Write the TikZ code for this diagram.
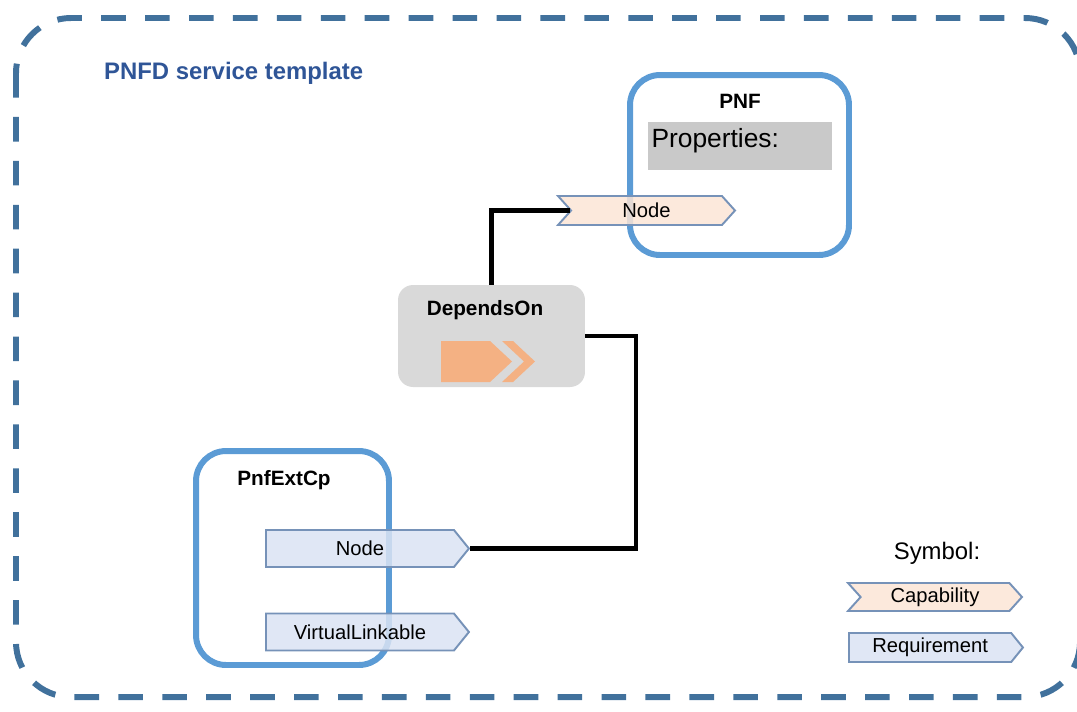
\documentclass[tikz,border=0pt]{standalone}
\usepackage{fontspec}
\setmainfont{Liberation Sans}
\usetikzlibrary{positioning}
\usetikzlibrary{shapes.symbols}
\usetikzlibrary{calc}
\definecolor{tmplblue}{HTML}{41719C}
\definecolor{titleblue}{HTML}{2F5597}
\definecolor{boxblue}{HTML}{5B9BD5}
\definecolor{edgeblue}{HTML}{7692B8}
\definecolor{capfill}{HTML}{FBE5D6}
\definecolor{reqfill}{HTML}{DAE3F3}
\definecolor{propgray}{HTML}{C9C9C9}
\definecolor{relgray}{HTML}{D9D9D9}
\definecolor{arroworange}{HTML}{F4B183}
\tikzstyle{template}=[draw=tmplblue, line width=3.4pt, dash pattern=on 14pt off 11pt, rounded corners=1.1cm]
\tikzstyle{container}=[draw=boxblue, line width=3.4pt, rounded corners=0.6cm]
\tikzstyle{title}=[font=\bfseries\fontsize{11.8}{14}\selectfont]
\tikzstyle{port}=[shape=signal, draw=edgeblue, line width=1.1pt, font=\fontsize{11.5}{13}\selectfont, inner sep=0pt, fill opacity=0.85, text opacity=1]
\tikzstyle{capability}=[port, fill=capfill, signal from=west, signal to=east, signal pointer angle=96, minimum height=0.58cm]
\tikzstyle{requirement}=[port, fill=reqfill, signal to=east, signal pointer angle=102, minimum height=0.74cm, anchor=west]
\tikzstyle{link}=[draw=black, line width=2.3pt]

\begin{document}
\begin{tikzpicture}[x=0.02cm, y=-0.02cm]
  \useasboundingbox (0,0) rectangle (1077,711);
  \draw[template] (16,18) rectangle (1080,697);
  \node[anchor=west, text=titleblue, font=\bfseries\fontsize{13.6}{16}\selectfont] (tmpl) at (98,73) {PNFD service template};

  % PNF
  \node[container, minimum width=4.38cm, minimum height=3.6cm] (pnf) at (739.5,165) {};
  \node[title] (pnflabel) at (740,101) {PNF};
  \node[fill=propgray, minimum width=3.68cm, minimum height=0.96cm] (props) at (740,146) {};
  \node[anchor=west, inner sep=2pt, font=\fontsize{15}{17}\selectfont] (proptext) at ($(props.west)+(0,-5)$) {Properties:};
  \node[capability, minimum width=3.54cm] (pnfnode) at (646.5,210.5) {Node};

  % relationship
  \node[fill=relgray, rounded corners=0.3cm, minimum width=3.74cm, minimum height=2.04cm] (dep) at (491.5,336) {};
  \node[title] (deplabel) at (485,310) {DependsOn};
  \fill[arroworange] (441,341) -- (490,341) -- (512,361.5) -- (490,382) -- (441,382) -- cycle;
  \fill[arroworange] (502,341) -- (513,341) -- (535,361.5) -- (513,382) -- (502,382) -- (524,361.5) -- cycle;

  % PnfExtCp
  \node[container, minimum width=3.86cm, minimum height=4.28cm] (ext) at (292.5,558) {};
  \node[title] (extlabel) at (284,480) {PnfExtCp};
  \node[requirement, minimum width=4.06cm] (extnode) at (265,548.5) {Node};
  \node[requirement, minimum width=4.06cm] (extvl) at (265,632) {VirtualLinkable};

  % legend
  \node[font=\fontsize{13.6}{16}\selectfont] (sym) at (937,553) {Symbol:};
  \node[capability, minimum width=3.48cm, minimum height=0.56cm] (legcap) at (935,597) {Capability};
  \node[requirement, minimum width=3.48cm, minimum height=0.58cm] (legreq) at (848,647.5) {Requirement};

  \draw[link] (dep.north) |- (pnfnode.west);
  \coordinate (turn) at (636,336);
  \draw[link] (dep.east) -- (turn) |- (extnode.east);
\end{tikzpicture}
\end{document}
